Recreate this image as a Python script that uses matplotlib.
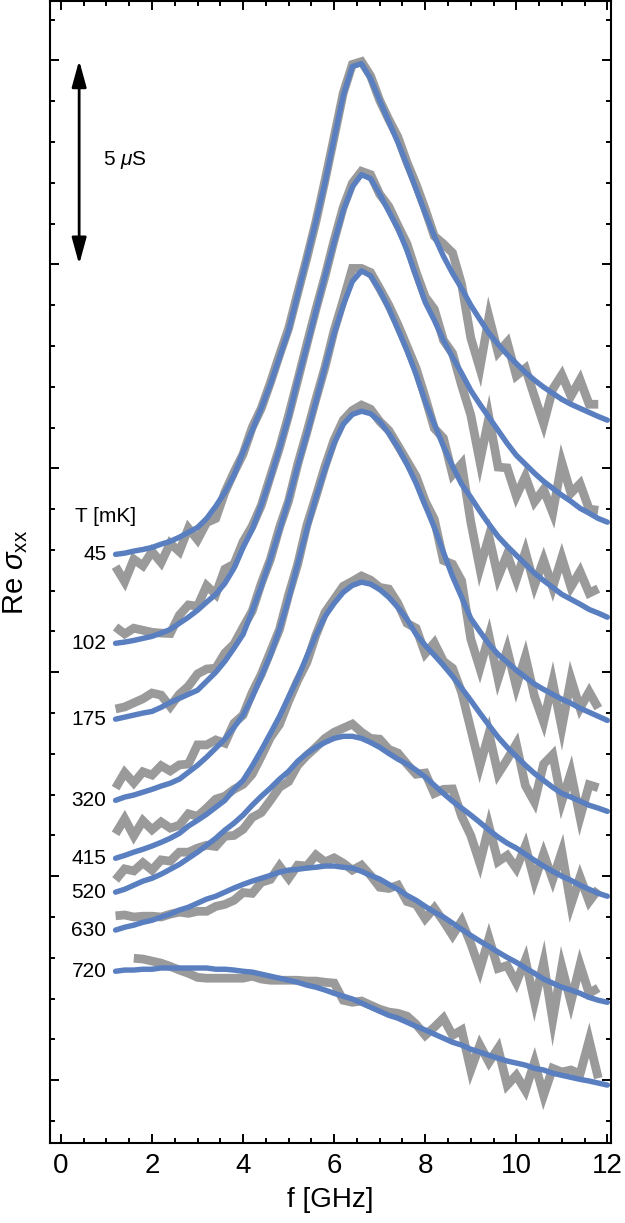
import numpy as np
import matplotlib
matplotlib.use("Agg")
import matplotlib.pyplot as plt
from matplotlib.ticker import MultipleLocator, NullFormatter

plt.rcParams['font.family'] = ['Liberation Sans', 'DejaVu Sans']
plt.rcParams['mathtext.fontset'] = 'custom'
plt.rcParams['mathtext.rm'] = 'Liberation Sans'
plt.rcParams['mathtext.it'] = 'Liberation Sans:italic'

# frequencies (GHz) of the fitted curves and of the measured points
freq_fit = [1.2, 1.4, 1.6, 1.8, 2.0, 2.2, 2.4, 2.6, 2.8, 3.0,
            3.2, 3.4, 3.6, 3.8, 4.0, 4.2, 4.4, 4.6, 4.8, 5.0,
            5.2, 5.4, 5.6, 5.8, 6.0, 6.2, 6.4, 6.6, 6.8, 7.0,
            7.2, 7.4, 7.6, 7.8, 8.0, 8.2, 8.4, 8.6, 8.8, 9.0,
            9.2, 9.4, 9.6, 9.8, 10.0, 10.2, 10.4, 10.6, 10.8, 11.0,
            11.2, 11.4, 11.6, 11.8, 12.0]
freq_data = freq_fit[:-1]

temps = ['45', '102', '175', '320', '415', '520', '630', '720']

# fitted Re sigma_xx (uS, curves offset vertically)
fit_45 = [12.89, 12.92, 12.97, 13.01, 13.06, 13.14, 13.21, 13.31, 13.43, 13.55,
          13.77, 14.07, 14.41, 14.83, 15.39, 15.93, 16.47, 17.06, 17.72, 18.38,
          19.26, 20.15, 21.05, 22.01, 23.09, 24.14, 24.85, 24.92, 24.55, 24.02,
          23.50, 22.99, 22.43, 21.84, 21.25, 20.69, 20.20, 19.78, 19.41, 19.00,
          18.65, 18.31, 18.04, 17.79, 17.57, 17.35, 17.16, 16.99, 16.84, 16.69,
          16.57, 16.47, 16.37, 16.27, 16.18]
fit_102 = [10.71, 10.74, 10.78, 10.83, 10.88, 10.96, 11.05, 11.20, 11.35, 11.52,
           11.72, 11.91, 12.18, 12.55, 13.06, 13.50, 14.09, 14.75, 15.49, 16.25,
           17.16, 17.99, 18.85, 19.71, 20.54, 21.32, 21.90, 22.20, 22.10, 21.72,
           21.30, 20.88, 20.34, 19.71, 19.07, 18.63, 18.14, 17.72, 17.33, 16.91,
           16.57, 16.25, 15.93, 15.61, 15.32, 15.10, 14.88, 14.68, 14.51, 14.34,
           14.19, 14.02, 13.90, 13.77, 13.68]
fit_175 = [8.85, 8.90, 8.95, 9.00, 9.04, 9.14, 9.26, 9.36, 9.46, 9.56,
           9.78, 10.00, 10.27, 10.59, 10.93, 11.50, 12.11, 12.77, 13.48, 14.22,
           15.05, 15.83, 16.64, 17.48, 18.31, 19.00, 19.58, 19.84, 19.72, 19.36,
           18.92, 18.41, 17.89, 17.30, 16.64, 16.08, 15.54, 15.05, 14.61, 14.29,
           13.95, 13.63, 13.33, 13.09, 12.87, 12.65, 12.43, 12.25, 12.08, 11.91,
           11.79, 11.67, 11.54, 11.45, 11.35]
fit_320 = [6.86, 6.94, 6.99, 7.06, 7.13, 7.21, 7.28, 7.38, 7.55, 7.72,
           7.92, 8.14, 8.36, 8.65, 8.95, 9.39, 9.90, 10.42, 11.05, 11.80,
           12.65, 13.50, 14.28, 14.98, 15.62, 16.08, 16.32, 16.40, 16.34, 16.15,
           15.86, 15.51, 15.10, 14.63, 14.09, 13.55, 12.94, 12.35, 11.84, 11.32,
           11.00, 10.69, 10.44, 10.25, 10.05, 9.88, 9.71, 9.58, 9.46, 9.34,
           9.24, 9.12, 9.02, 8.92, 8.82]
fit_415 = [5.44, 5.51, 5.59, 5.66, 5.74, 5.83, 5.93, 6.05, 6.23, 6.37,
           6.52, 6.69, 6.86, 7.13, 7.35, 7.70, 8.09, 8.50, 8.92, 9.39,
           9.85, 10.39, 10.91, 11.37, 11.69, 11.96, 12.13, 12.21, 12.16, 12.03,
           11.84, 11.59, 11.30, 10.93, 10.66, 10.42, 10.17, 9.90, 9.61, 9.31,
           9.00, 8.70, 8.41, 8.16, 7.94, 7.72, 7.52, 7.35, 7.18, 7.03,
           6.94, 6.84, 6.74, 6.67, 6.59]
fit_520 = [4.61, 4.68, 4.78, 4.88, 4.95, 5.05, 5.17, 5.29, 5.44, 5.59,
           5.76, 5.93, 6.13, 6.30, 6.50, 6.74, 6.96, 7.16, 7.38, 7.57,
           7.82, 8.01, 8.16, 8.28, 8.38, 8.43, 8.43, 8.38, 8.28, 8.16,
           8.01, 7.87, 7.75, 7.60, 7.43, 7.23, 7.03, 6.84, 6.67, 6.50,
           6.32, 6.13, 5.96, 5.81, 5.69, 5.54, 5.39, 5.25, 5.12, 5.00,
           4.90, 4.78, 4.68, 4.58, 4.51]
fit_630 = [3.68, 3.75, 3.80, 3.87, 3.92, 4.00, 4.07, 4.17, 4.24, 4.34,
           4.44, 4.51, 4.61, 4.71, 4.80, 4.88, 4.95, 5.02, 5.10, 5.15,
           5.17, 5.20, 5.22, 5.25, 5.25, 5.22, 5.20, 5.12, 5.02, 4.93,
           4.80, 4.68, 4.53, 4.41, 4.26, 4.12, 4.00, 3.85, 3.70, 3.55,
           3.41, 3.28, 3.14, 3.01, 2.89, 2.75, 2.62, 2.48, 2.38, 2.28,
           2.21, 2.13, 2.03, 1.96, 1.91]
fit_720 = [2.67, 2.70, 2.70, 2.72, 2.72, 2.75, 2.75, 2.75, 2.75, 2.75,
           2.75, 2.72, 2.72, 2.70, 2.67, 2.65, 2.60, 2.55, 2.50, 2.45,
           2.40, 2.33, 2.28, 2.21, 2.13, 2.06, 1.99, 1.89, 1.79, 1.69,
           1.59, 1.52, 1.42, 1.32, 1.23, 1.13, 1.03, 0.93, 0.86, 0.76,
           0.69, 0.61, 0.54, 0.47, 0.42, 0.37, 0.29, 0.25, 0.17, 0.12,
           0.07, 0.02, -0.02, -0.07, -0.12]

# measured Re sigma_xx (uS, same offsets)
data_45 = [12.59, 12.22, 12.77, 12.61, 12.96, 12.69, 13.16, 12.96, 13.53, 13.25,
           13.67, 13.77, 14.41, 14.90, 15.35, 16.00, 16.47, 17.10, 17.78, 18.43,
           19.30, 20.15, 21.05, 22.06, 23.12, 24.20, 24.90, 24.97, 24.62, 24.02,
           23.55, 23.12, 22.50, 21.96, 21.35, 20.69, 20.50, 20.28, 19.51, 18.20,
           17.45, 18.71, 17.84, 18.09, 17.27, 17.45, 16.76, 16.09, 16.94, 17.29,
           16.77, 17.17, 16.57, 16.57]
data_102 = [11.11, 10.94, 11.08, 11.03, 10.98, 10.96, 10.95, 11.40, 11.65, 11.62,
            12.12, 11.91, 12.53, 12.65, 13.20, 13.58, 14.09, 14.80, 15.50, 16.30,
            17.16, 18.04, 18.90, 19.71, 20.59, 21.40, 21.99, 22.28, 22.20, 21.72,
            21.42, 20.95, 20.50, 19.81, 19.20, 18.90, 18.14, 17.82, 17.03, 16.31,
            15.17, 16.25, 15.03, 15.01, 14.32, 14.80, 14.18, 14.48, 13.91, 15.14,
            14.39, 14.62, 14.00, 13.97]
data_175 = [9.10, 9.15, 9.25, 9.35, 9.49, 9.44, 9.16, 9.46, 9.66, 9.96,
            10.08, 10.10, 10.47, 10.69, 11.10, 11.50, 12.18, 12.77, 13.55, 14.20,
            15.10, 15.88, 16.70, 17.48, 18.38, 19.12, 19.90, 19.90, 19.80, 19.41,
            19.00, 18.52, 17.99, 17.45, 16.74, 15.98, 15.74, 14.85, 15.11, 13.69,
            12.55, 13.33, 12.33, 12.89, 12.27, 12.95, 12.13, 12.75, 12.08, 12.81,
            12.09, 12.47, 11.94, 12.05]
data_320 = [7.16, 7.54, 7.29, 7.56, 7.48, 7.71, 7.58, 7.73, 7.75, 8.22,
            8.22, 8.34, 8.26, 8.75, 8.95, 9.50, 9.95, 10.50, 11.05, 11.90,
            12.65, 13.60, 14.31, 15.05, 15.70, 16.18, 16.42, 16.55, 16.45, 16.15,
            15.93, 15.56, 15.18, 14.80, 14.19, 13.75, 12.74, 12.65, 12.24, 10.82,
            10.10, 10.89, 9.84, 10.55, 9.65, 10.38, 9.41, 8.78, 9.76, 8.64,
            9.84, 9.12, 9.52, 9.12]
data_415 = [6.04, 6.41, 5.99, 6.36, 6.14, 6.33, 6.18, 6.25, 6.53, 6.47,
            6.67, 6.89, 6.96, 7.13, 7.25, 7.50, 7.94, 8.40, 8.72, 9.29,
            9.80, 10.24, 10.91, 11.47, 11.79, 12.11, 12.23, 12.36, 12.26, 12.08,
            12.04, 11.69, 11.20, 11.08, 10.46, 10.72, 10.27, 10.10, 9.51, 8.61,
            7.70, 8.50, 7.51, 7.86, 8.24, 7.22, 6.82, 7.75, 7.98, 6.83,
            7.54, 6.44, 7.24, 7.17]
data_520 = [4.91, 5.18, 5.13, 5.33, 5.15, 5.40, 5.37, 5.59, 5.59, 5.69,
            5.76, 5.73, 5.98, 6.00, 6.15, 6.44, 6.56, 6.86, 7.18, 7.32,
            7.72, 7.96, 8.16, 8.38, 8.53, 8.63, 8.73, 8.53, 8.38, 8.36,
            8.11, 8.02, 7.75, 7.50, 7.53, 7.03, 7.13, 7.14, 6.47, 6.00,
            5.32, 6.23, 5.36, 5.51, 5.19, 5.74, 4.89, 5.55, 4.92, 5.60,
            4.30, 4.98, 4.38, 4.68]
data_630 = [4.03, 4.05, 4.00, 4.02, 4.02, 4.00, 4.07, 4.12, 4.09, 4.14,
            4.14, 4.26, 4.31, 4.41, 4.60, 4.58, 4.85, 4.92, 5.25, 4.95,
            5.27, 5.25, 5.52, 5.35, 5.45, 5.32, 5.15, 5.27, 5.02, 4.73,
            4.70, 4.78, 4.38, 4.31, 3.96, 4.22, 3.90, 3.55, 3.90, 3.35,
            2.71, 3.48, 2.74, 2.81, 2.39, 2.95, 1.92, 2.88, 1.48, 2.78,
            1.91, 2.83, 2.13, 2.26]
data_720 = [np.nan, np.nan, 2.99, 2.97, 2.92, 2.87, 2.79, 2.70, 2.62, 2.52,
            2.50, 2.50, 2.50, 2.50, 2.50, 2.55, 2.48, 2.45, 2.45, 2.45,
            2.45, 2.43, 2.43, 2.40, 2.38, 1.96, 1.91, 1.94, 1.84, 1.74,
            1.67, 1.64, 1.57, 1.37, 1.10, 1.30, 1.52, 1.10, 1.23, 0.25,
            0.86, 0.44, 0.78, -0.12, 0.12, -0.25, 0.44, -0.37, 0.29, 0.20,
            0.25, 0.15, 0.98, 0.05]

fits = [fit_45, fit_102, fit_175, fit_320, fit_415, fit_520, fit_630, fit_720]
datas = [data_45, data_102, data_175, data_320, data_415, data_520, data_630, data_720]

gris = '#9a9a9a'
azul = '#5a7fc0'

fig = plt.figure(figsize=(6.25, 12.23), dpi=100)
ax = fig.add_axes([0.08, 0.0654, 0.8976, 0.9336])

for d in datas:
    ax.plot(freq_data, d, color=gris, linewidth=6.3, solid_joinstyle='miter',
            solid_capstyle='butt', zorder=2)
for f in fits:
    ax.plot(freq_fit, f, color=azul, linewidth=3.9, solid_capstyle='round',
            solid_joinstyle='round', zorder=3)

# temperature labels next to the start of each fit
for t, f in zip(temps, fits):
    ax.text(1.0, f[0], t, ha='right', va='center', fontsize=15)
ax.text(0.31, 13.82, 'T [mK]', ha='left', va='center', fontsize=15)

# scale bar
ax.annotate('', xy=(0.40, 25.0), xytext=(0.40, 20.0),
            arrowprops=dict(arrowstyle='<|-|>,head_length=0.8,head_width=0.22',
                            color='black', lw=2.0, mutation_scale=20,
                            shrinkA=0, shrinkB=0))
ax.text(0.93, 22.55, r'5 $\mu$S', ha='left', va='center', fontsize=15)

ax.set_xlim(-0.24, 12.08)
ax.set_ylim(-1.54, 26.45)
ax.xaxis.set_major_locator(MultipleLocator(2))
ax.xaxis.set_minor_locator(MultipleLocator(0.5))
ax.yaxis.set_major_locator(MultipleLocator(5))
ax.yaxis.set_minor_locator(MultipleLocator(1))
ax.yaxis.set_major_formatter(NullFormatter())
ax.tick_params(which='both', direction='in', top=True, right=True, width=1.4)
ax.tick_params(which='major', length=6.5, labelsize=20, pad=7)
ax.tick_params(which='minor', length=3.6)
for s in ax.spines.values():
    s.set_linewidth(1.5)

ax.set_xlabel('f [GHz]', fontsize=20, labelpad=6)
ax.set_ylabel(r'Re $\sigma_{\rm xx}$', fontsize=21)
ax.yaxis.set_label_coords(-0.035, 0.5)

fig.savefig('out.png', dpi=100)
